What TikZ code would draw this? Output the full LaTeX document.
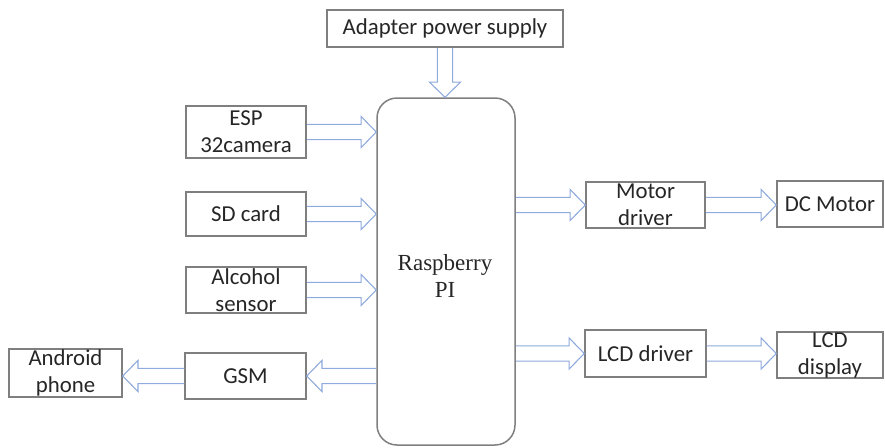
\documentclass[tikz,border=0pt]{standalone}
\usepackage{fontspec}
\setmainfont{Carlito}
\newfontfamily\serifpi{Liberation Serif}
\usepackage{tikz}
\usetikzlibrary{calc}
\definecolor{boxgray}{HTML}{7F7F7F}
\definecolor{arrowblue}{HTML}{8FAADC}
\definecolor{inktext}{HTML}{262626}
\newcommand\shafthalf{3.8pt}
\newcommand\headhalf{7.8pt}
\newcommand\headlen{7.6pt}
\tikzset{
  % Plain blocks
  blk/.style={draw=boxgray,line width=0.75pt,fill=white,align=center,
              inner xsep=1pt,inner ysep=-1.5pt,text=inktext,
              font=\fontsize{11.4}{13.5}\selectfont},
  % Controller
  ctrl/.style={draw=boxgray,line width=0.75pt,rounded corners=10pt,
               align=center,text=inktext,font=\serifpi\fontsize{11.5}{13.5}\selectfont},
  % Hollow block arrow
  barrow/.style={draw=arrowblue,line width=0.55pt,line join=miter,
    to path={
      ($(\tikztostart)!\shafthalf!90:(\tikztotarget)$)
      -- ($(\tikztotarget)!\headlen!(\tikztostart)!\shafthalf!90:(\tikztotarget)$)
      -- ($(\tikztotarget)!\headlen!(\tikztostart)!\headhalf!90:(\tikztotarget)$)
      -- (\tikztotarget)
      -- ($(\tikztotarget)!\headlen!(\tikztostart)!\headhalf!-90:(\tikztotarget)$)
      -- ($(\tikztotarget)!\headlen!(\tikztostart)!\shafthalf!-90:(\tikztotarget)$)
      -- ($(\tikztostart)!\shafthalf!-90:(\tikztotarget)$)
    }}
}
\begin{document}
\begin{tikzpicture}[x=0.5pt,y=-0.5pt]
  \useasboundingbox (0,0) rectangle (885,447);

  % Controller and supply
  \node[ctrl,minimum width=69pt,minimum height=173.5pt] (pi) at (446,271.5) {};
  \node[ctrl,draw=none] (pitext) at (445,276) {Raspberry\\PI};
  \node[blk,minimum width=118pt,minimum height=18.5pt] (adapter) at (445,28.5) {Adapter power supply};

  % Inputs
  \node[blk,minimum width=60pt,minimum height=26pt] (esp) at (246,132) {ESP\\32camera};
  \node[blk,minimum width=60pt,minimum height=22pt] (sd)  at (246,214) {SD card};
  \node[blk,minimum width=60pt,minimum height=23pt] (alc) at (246,290) {Alcohol\\sensor};

  % Communication
  \node[blk,minimum width=60.5pt,minimum height=23pt] (gsm) at (245.5,376) {GSM};
  \node[blk,minimum width=56.5pt,minimum height=24pt] (android) at (65.5,373) {Android\\phone};

  % Outputs
  \node[blk,minimum width=59.5pt,minimum height=23pt] (motor) at (645.5,205) {Motor\\driver};
  \node[blk,minimum width=53pt,minimum height=23pt] (dcm) at (830,204) {DC Motor};
  \node[blk,minimum width=60.5pt,minimum height=23.5pt] (lcddrv) at (645.5,353.5) {LCD driver};
  \node[blk,minimum width=53pt,minimum height=23pt] (lcddisp) at (830,355) {LCD\\display};

  % Block arrows
  \draw[barrow] (adapter.south) to (adapter.south |- pi.north);
  \draw[barrow] (esp.east) to (esp.east -| pi.west);
  \draw[barrow] (sd.east)  to (sd.east -| pi.west);
  \draw[barrow] (alc.east) to (alc.east -| pi.west);
  \draw[barrow] (gsm.east -| pi.west) to (gsm.east);
  \draw[barrow] (gsm.west) to (android.east |- gsm.west);
  \draw[barrow] (motor.west -| pi.east) to (motor.west);
  \draw[barrow] (motor.east) to (motor.east -| dcm.west);
  \draw[barrow] (lcddrv.west -| pi.east) to (lcddrv.west);
  \draw[barrow] (lcddrv.east) to (lcddrv.east -| lcddisp.west);
\end{tikzpicture}
\end{document}
